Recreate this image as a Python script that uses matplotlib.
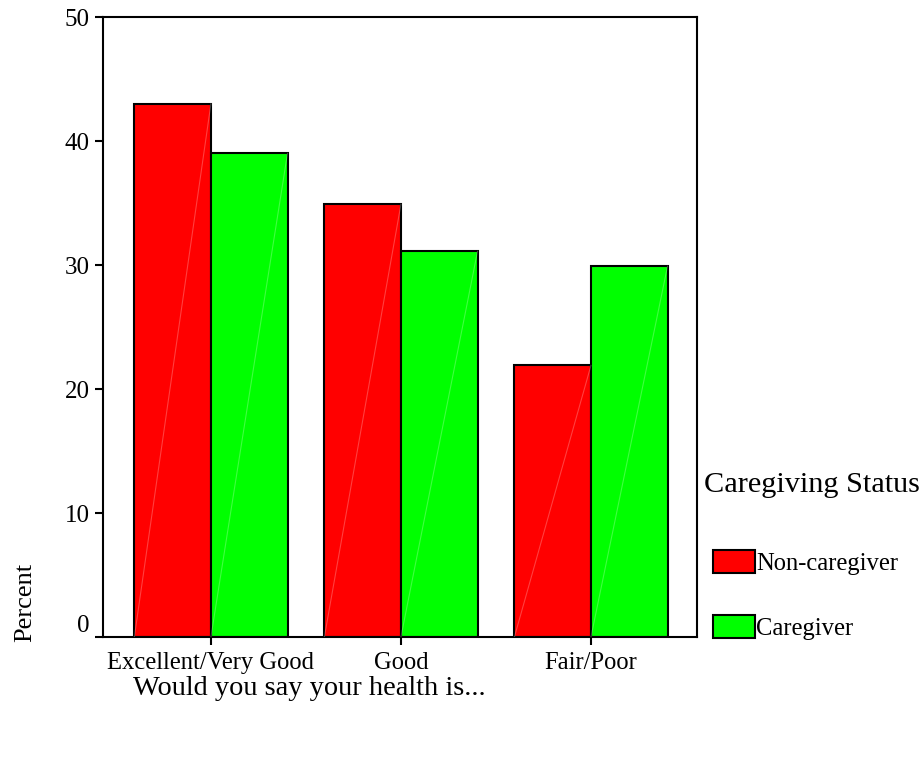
import numpy as np
import matplotlib
matplotlib.use("Agg")
import matplotlib.pyplot as plt

plt.rcParams['font.family'] = ['Liberation Serif', 'DejaVu Serif']

# data
categories = ['Excellent/Very Good', 'Good', 'Fair/Poor']
non_caregiver = [43.0, 34.9, 21.9]
caregiver = [39.0, 31.1, 29.9]
series_names = ['Non-caregiver', 'Caregiver']
series_colors = ['#ff0000', '#00ff00']
yticks = [0, 10, 20, 30, 40, 50]

fig = plt.figure(figsize=(9.23, 7.57), dpi=100)
ax = fig.add_axes([103 / 923, 120 / 757, 594 / 923, 620 / 757])

x = np.arange(len(categories))
w = 0.403
handles = []
for k, (vals, col, name) in enumerate(zip([non_caregiver, caregiver], series_colors, series_names)):
    pos = x + (k - 0.5) * w
    b = ax.bar(pos, vals, width=w, color=col, edgecolor='black', linewidth=1.5, label=name, zorder=2)
    handles.append(b)
    # faint diagonal streak inside each bar
    for p, v in zip(pos, vals):
        ax.plot([p - w / 2, p + w / 2], [0, v], color='white', alpha=0.25, lw=0.8, zorder=3)

ax.set_xlim(-0.568, 2.558)
ax.set_ylim(0, 50)
ax.set_xticks(x)
ax.set_xticklabels(categories, fontsize=17.7)
ax.set_yticks(yticks)
ax.set_yticklabels([str(t) for t in yticks], fontsize=18)
ax.get_yticklabels()[0].set_va('bottom')
ax.tick_params(axis='both', direction='out', length=6, width=1.5, color='black')
ax.tick_params(axis='y', pad=3.5)
ax.tick_params(axis='x', pad=4.5)
for s in ax.spines.values():
    s.set_linewidth(1.5)

ax.text(-0.131, 0.055, 'Percent', transform=ax.transAxes, rotation=90,
        ha='center', va='center', fontsize=19)
ax.text(0.0505, -0.083, 'Would you say your health is...', transform=ax.transAxes,
        ha='left', va='center', fontsize=20.4)
ax.text(1.012, 0.245, 'Caregiving Status', transform=ax.transAxes,
        ha='left', va='center', fontsize=21.8)

leg = ax.legend(handles=handles, loc='lower left', bbox_to_anchor=(1.027, -0.005),
                frameon=False, fontsize=17.7, borderpad=0, borderaxespad=0,
                handlelength=1.7, handleheight=1.05, handletextpad=0.05,
                labelspacing=1.65)

fig.savefig('out.png', dpi=100, facecolor='white')
